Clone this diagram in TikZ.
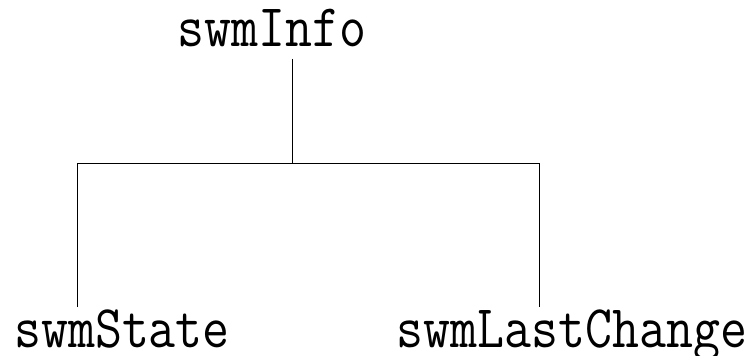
\documentclass[tikz,border=0pt]{standalone}
\usepackage{graphicx}
\usepackage{tikz}
\def\labelfont{\fontsize{45.4pt}{50pt}\selectfont\ttfamily}
\def\narrow#1{\scalebox{0.865}[1]{\labelfont #1}}
\tikzset{word/.style={anchor=base,inner sep=0pt}}

\begin{document}
\begin{tikzpicture}[x=0.75pt,y=-0.75pt,line width=0.75pt]
				\useasboundingbox (0,0) rectangle (756,356);
				
				\node[word] (info) at (272,47){\narrow{swmInfo}};
				\node[word] (state) at (122,347){\narrow{swmState}};
				\node[word] (change) at (572,347){\narrow{swmLastChange}};
				
				%bar joining the two branches
				\coordinate (top) at (292,59);
				\coordinate (mid) at (292,164);
				\coordinate (left) at (77,164);
				\coordinate (right) at (539,164);
				\coordinate (leftend) at (77,307);
				\coordinate (rightend) at (539,307);
				
				%drawing the branches
				\draw (top) -- (mid);
				\draw (leftend) -- (left) -- (right) -- (rightend);
			\end{tikzpicture}
\end{document}
